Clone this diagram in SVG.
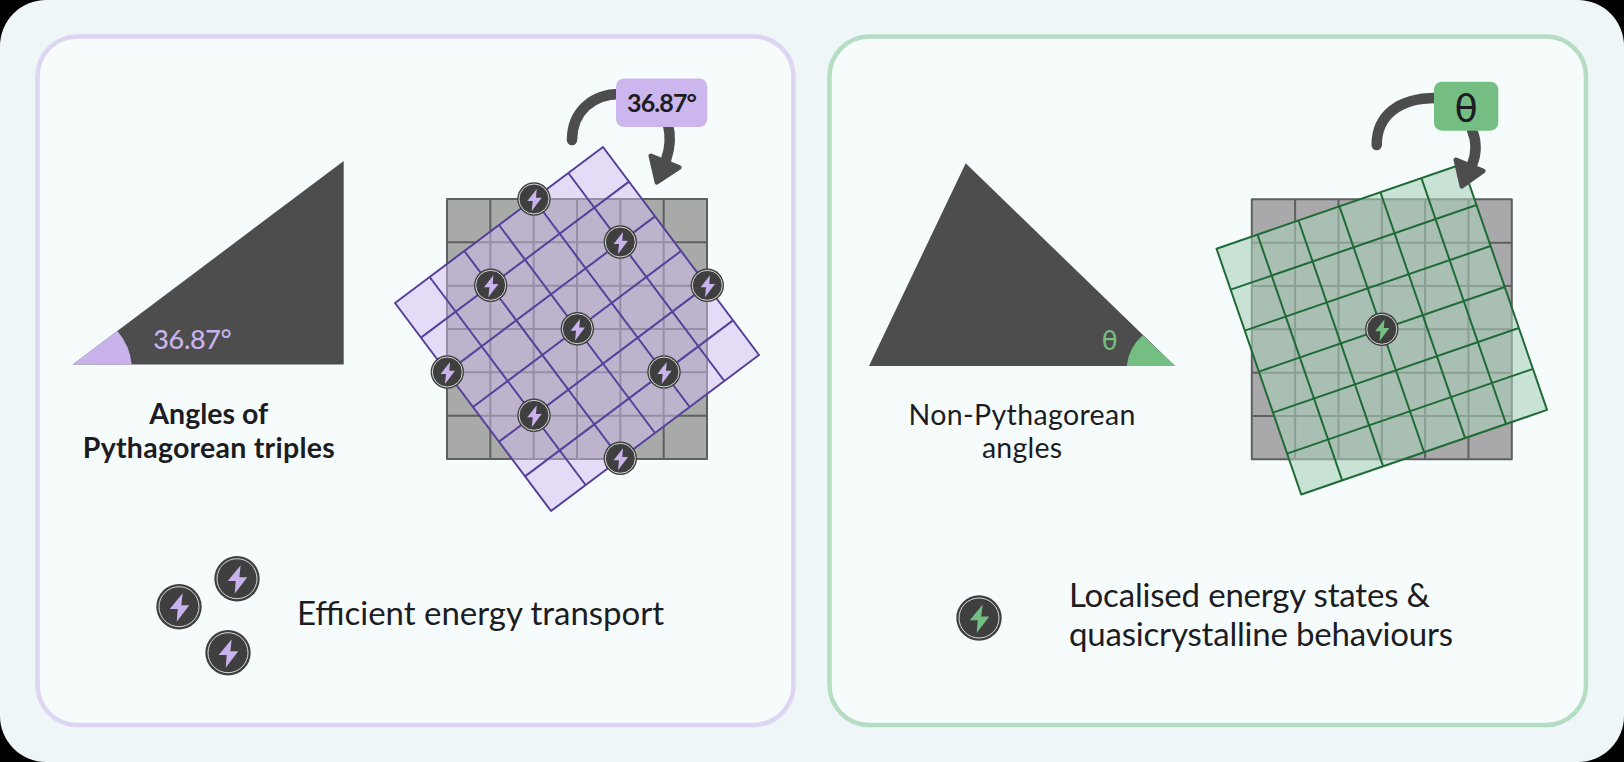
<svg xmlns="http://www.w3.org/2000/svg" width="1624" height="762" viewBox="0 0 1624 762">
<style>
text{font-family:"Lato","Noto Sans",sans-serif;fill:#1c1c22}
.panel{fill:#f6fcfc;stroke-width:4.5}
.tri{fill:#4d4d4d}
.base{fill:#a8aaa8}
.baseline{fill:none;stroke:#5e5f5e;stroke-width:2;stroke-linejoin:round}
.pf{fill:#d2bcf0;fill-opacity:.5}
.pl{fill:none;stroke:#55409a;stroke-width:2;stroke-linejoin:round}
.gf{fill:#a9cfba;fill-opacity:.58}
.gl{fill:none;stroke:#1f6b35;stroke-width:2;stroke-linejoin:round}
.arc{fill:none;stroke:#4d4d4d;stroke-width:10.5;stroke-linecap:round}
.disc{fill:#3f3f3f}
.ring{fill:none;stroke:#d8d8d8;stroke-width:1}
.head{fill:#4d4d4d;stroke:#4d4d4d;stroke-width:5;stroke-linejoin:round}
.cap{font-size:28.5px}
.big{font-size:33px}
.greek{font-family:"DejaVu Sans",sans-serif}
</style>
<defs>
<g id="gridlines">
<path d="M-130 -130H130V130H-130ZM-86.67 -130V130M-43.33 -130V130M0 -130V130M43.33 -130V130M86.67 -130V130M-130 -86.67H130M-130 -43.33H130M-130 0H130M-130 43.33H130M-130 86.67H130"/>
</g>
<g id="boltP">
<circle class="disc" r="16.7"/><circle class="ring" r="15"/>
<path fill="#c9b3ec" d="M2.7 -10L-6.7 2H-1.3L-2.3 12L7.7 -1.3H2Z"/>
</g>
<g id="boltG">
<circle class="disc" r="16.7"/><circle class="ring" r="15"/>
<path fill="#74be84" d="M2.7 -10L-6.7 2H-1.3L-2.3 12L7.7 -1.3H2Z"/>
</g>
<g id="boltPL">
<circle class="disc" r="22.7"/><circle class="ring" r="20"/>
<path fill="#c9b3ec" d="M3.7 -13.5L-9.3 2.2H-1.3L-2.3 15L10.3 -1.5H2.3Z"/>
</g>
<g id="boltGL">
<circle class="disc" r="22.7"/><circle class="ring" r="20"/>
<path fill="#74be84" d="M3.7 -13.5L-9.3 2.2H-1.3L-2.3 15L10.3 -1.5H2.3Z"/>
</g>
</defs>
<rect width="1624" height="762" fill="#000"/>
<rect id="background" width="1624" height="762" rx="46" fill="#eff6f7"/>
<g id="panel-left"><rect class="panel" x="37.5" y="36.5" width="756" height="688.5" rx="40" stroke="#ddd6f3"/></g>
<g id="panel-right"><rect class="panel" x="829.5" y="36.5" width="756.5" height="688.5" rx="40" stroke="#b5ddc3"/></g>

<g id="triangle-left">
<path class="tri" d="M72.7 364.5L343.7 161V364.5Z"/>
<path fill="#c9b3ec" d="M72.7 364.5L117.3 331A59 59 0 0 1 131.7 364.5Z"/>
<text x="153.3" y="349" font-size="27" textLength="78.4" font-weight="500" style="fill:#c9b3ec">36.87°</text>
</g>
<g id="label-left">
<text class="cap" x="208.8" y="424" text-anchor="middle" font-weight="700" textLength="119">Angles of</text>
<text class="cap" x="208.8" y="458.3" text-anchor="middle" font-weight="700" textLength="252">Pythagorean triples</text>
</g>

<g id="grid-left">
<g transform="translate(577 329)">
<rect class="base" x="-130" y="-130" width="260" height="260"/>
<use href="#gridlines" class="baseline"/>
<g transform="rotate(-36.87)">
<rect class="pf" x="-130" y="-130" width="260" height="260"/>
<use href="#gridlines" class="pl"/>
</g>
</g>
</g>
<g id="connectors-left">
<path class="arc" d="M572 140C572 112 592 94 620 94"/>
<path class="arc" d="M668 125C671 136 670 148 666 160"/>
<path class="head" d="M651 156L679 167.5L657 182Z"/>
</g>
<g id="badge-left">
<rect x="616" y="78.5" width="91.3" height="48.5" rx="8" fill="#cbb6ee"/>
<text x="662" y="111.7" text-anchor="middle" font-size="25" font-weight="700" textLength="70">36.87°</text>
</g>
<g id="nodes-left">
<use href="#boltP" x="534" y="199"/>
<use href="#boltP" x="620.3" y="242"/>
<use href="#boltP" x="490.7" y="285.3"/>
<use href="#boltP" x="707.3" y="285.3"/>
<use href="#boltP" x="577.3" y="328.7"/>
<use href="#boltP" x="447.3" y="372"/>
<use href="#boltP" x="664" y="372"/>
<use href="#boltP" x="534" y="415.3"/>
<use href="#boltP" x="620.3" y="458.3"/>
</g>
<g id="legend-left">
<use href="#boltPL" x="179" y="606.7"/>
<use href="#boltPL" x="237" y="578.7"/>
<use href="#boltPL" x="228" y="652.7"/>
<text class="big" x="297" y="625" textLength="367">Efficient energy transport</text>
</g>

<g id="triangle-right">
<path class="tri" d="M869 366L965.7 163.3L1175 366Z"/>
<path fill="#74be84" d="M1175 366L1142.7 335.3A48 48 0 0 0 1126.7 366Z"/>
<text class="greek" x="1109.7" y="350" text-anchor="middle" font-size="26" style="fill:#74be84">θ</text>
</g>
<g id="label-right">
<text class="cap" x="1022" y="424.5" text-anchor="middle" textLength="227">Non-Pythagorean</text>
<text class="cap" x="1022" y="458" text-anchor="middle" textLength="80">angles</text>
</g>
<g id="grid-right">
<g transform="translate(1381.8 329.3)">
<rect class="base" x="-130" y="-130" width="260" height="260" style="fill:#a9a9ab"/>
<use href="#gridlines" class="baseline"/>
<g transform="rotate(-19)">
<rect class="gf" x="-130" y="-130" width="260" height="260"/>
<use href="#gridlines" class="gl"/>
</g>
</g>
</g>
<g id="connectors-right">
<path class="arc" d="M1376.7 145C1376.7 116 1398 98 1436 98"/>
<path class="arc" d="M1472 130C1477 142 1476 155 1472 165"/>
<path class="head" d="M1456 160L1483 171L1462 186Z"/>
</g>
<g id="badge-right">
<rect x="1434" y="81.7" width="64.3" height="49" rx="8" fill="#74be84"/>
<text class="greek" x="1466" y="121" text-anchor="middle" font-size="38">θ</text>
</g>
<g id="nodes-right">
<use href="#boltG" x="1381.8" y="329.3"/>
</g>
<g id="legend-right">
<use href="#boltGL" x="979" y="618"/>
<text class="big" x="1069" y="607" textLength="361">Localised energy states &amp;</text>
<text class="big" x="1069" y="646" textLength="384">quasicrystalline behaviours</text>
</g>
</svg>
